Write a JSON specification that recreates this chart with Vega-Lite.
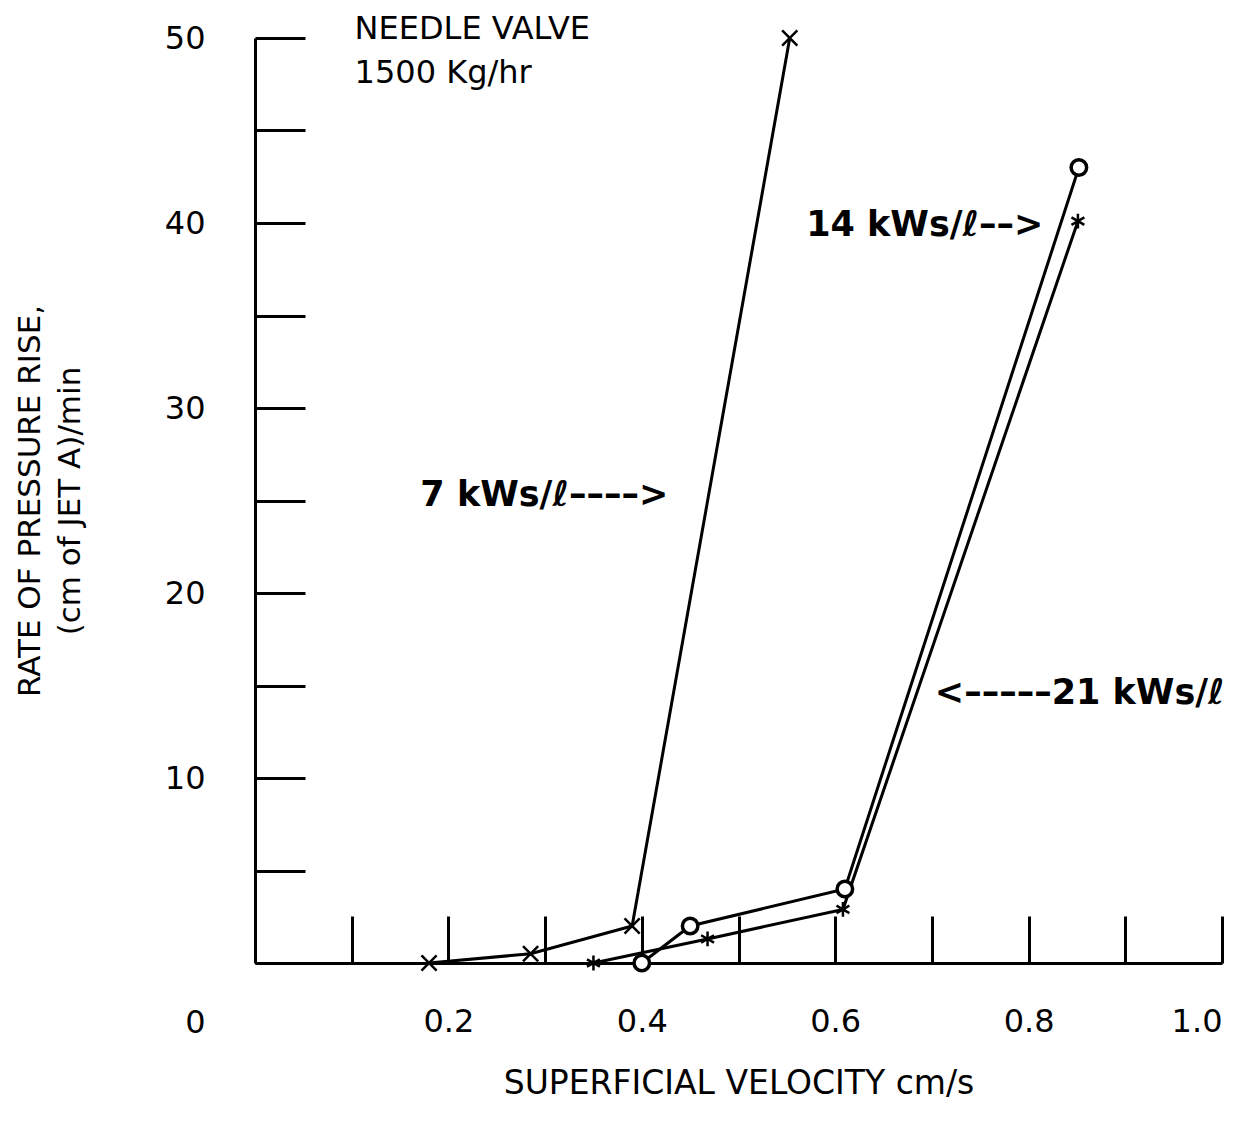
{
  "$schema": "https://vega.github.io/schema/vega-lite/v6.json",
  "width": 967,
  "height": 925,
  "autosize": {"type": "none"},
  "padding": {"left": 255, "top": 38, "right": 30, "bottom": 174},
  "background": "white",
  "config": {
    "view": {"stroke": null},
    "font": "DejaVu Sans",
    "axis": {
      "grid": false,
      "domainColor": "black",
      "domainWidth": 3,
      "tickColor": "black",
      "tickWidth": 3,
      "labelColor": "black",
      "labelFont": "DejaVu Sans",
      "labelFontSize": 32,
      "titleColor": "black",
      "titleFont": "DejaVu Sans",
      "titleFontSize": 31,
      "titleFontWeight": "normal"
    }
  },
  "datasets": {
    "runs": [
      {"series": "7 kWs/l", "velocity": 0.18, "rate": 0.0},
      {"series": "7 kWs/l", "velocity": 0.285, "rate": 0.5},
      {"series": "7 kWs/l", "velocity": 0.39, "rate": 2.0},
      {"series": "7 kWs/l", "velocity": 0.553, "rate": 50.0},
      {"series": "14 kWs/l", "velocity": 0.40, "rate": 0.0},
      {"series": "14 kWs/l", "velocity": 0.45, "rate": 2.0},
      {"series": "14 kWs/l", "velocity": 0.61, "rate": 4.0},
      {"series": "14 kWs/l", "velocity": 0.852, "rate": 43.0},
      {"series": "21 kWs/l", "velocity": 0.35, "rate": 0.0},
      {"series": "21 kWs/l", "velocity": 0.468, "rate": 1.3},
      {"series": "21 kWs/l", "velocity": 0.608, "rate": 2.9},
      {"series": "21 kWs/l", "velocity": 0.851, "rate": 40.1}
    ],
    "header": [
      {"label": "NEEDLE VALVE", "velocity": 0.103, "rate": 50.5},
      {"label": "1500 Kg/hr", "velocity": 0.103, "rate": 48.1}
    ],
    "tags": [
      {"label": "7 kWs/ℓ––––>", "velocity": 0.171, "rate": 25.3},
      {"label": "14 kWs/ℓ––>", "velocity": 0.570, "rate": 39.9},
      {"label": "<–––––21 kWs/ℓ", "velocity": 0.703, "rate": 14.6}
    ]
  },
  "layer": [
    {
      "data": {"name": "runs"},
      "mark": {"type": "line", "color": "black", "strokeWidth": 3},
      "encoding": {
        "x": {
          "field": "velocity",
          "type": "quantitative",
          "scale": {"domain": [0, 1], "nice": false},
          "axis": {
            "title": "SUPERFICIAL VELOCITY cm/s",
            "titleFontSize": 33,
            "values": [0.1, 0.2, 0.3, 0.4, 0.5, 0.6, 0.7, 0.8, 0.9, 1.0],
            "format": ".1f",
            "labelExpr": "round(datum.value * 10) % 2 === 0 ? datum.label : ''",
            "tickSize": -47,
            "labelPadding": 90,
            "titlePadding": 30
          }
        },
        "y": {
          "field": "rate",
          "type": "quantitative",
          "scale": {"domain": [0, 50], "nice": false},
          "axis": {
            "title": ["RATE OF PRESSURE RISE,", "(cm of JET  A)/min"],
            "titleLineHeight": 40,
            "values": [0, 5, 10, 15, 20, 25, 30, 35, 40, 45, 50],
            "labelExpr": "datum.value % 10 === 0 ? datum.label : ''",
            "labelOffset": {"condition": {"test": "datum.value === 0", "value": 59}, "value": 0},
            "tickSize": -50,
            "labelPadding": 100,
            "titlePadding": 78
          }
        },
        "detail": {"field": "series"}
      }
    },
    {
      "data": {"name": "runs"},
      "transform": [{"filter": "datum.series === '7 kWs/l'"}],
      "mark": {
        "type": "point",
        "shape": "M-1,-1L1,1M-1,1L1,-1",
        "filled": false,
        "opacity": 1,
        "stroke": "black",
        "strokeWidth": 2.5,
        "size": 230
      },
      "encoding": {
        "x": {"field": "velocity", "type": "quantitative"},
        "y": {"field": "rate", "type": "quantitative"}
      }
    },
    {
      "data": {"name": "runs"},
      "transform": [{"filter": "datum.series === '14 kWs/l'"}],
      "mark": {
        "type": "point",
        "shape": "circle",
        "filled": false,
        "fill": "white",
        "fillOpacity": 1,
        "opacity": 1,
        "stroke": "black",
        "strokeWidth": 3.5,
        "size": 240
      },
      "encoding": {
        "x": {"field": "velocity", "type": "quantitative"},
        "y": {"field": "rate", "type": "quantitative"}
      }
    },
    {
      "data": {"name": "runs"},
      "transform": [{"filter": "datum.series === '21 kWs/l'"}],
      "mark": {
        "type": "point",
        "shape": "M0,-1L0,1M-0.87,-0.5L0.87,0.5M-0.87,0.5L0.87,-0.5",
        "filled": false,
        "opacity": 1,
        "stroke": "black",
        "strokeWidth": 2.5,
        "size": 220
      },
      "encoding": {
        "x": {"field": "velocity", "type": "quantitative"},
        "y": {"field": "rate", "type": "quantitative"}
      }
    },
    {
      "data": {"name": "header"},
      "mark": {
        "type": "text",
        "align": "left",
        "baseline": "middle",
        "font": "DejaVu Sans",
        "fontSize": 32,
        "color": "black"
      },
      "encoding": {
        "x": {"field": "velocity", "type": "quantitative"},
        "y": {"field": "rate", "type": "quantitative"},
        "text": {"field": "label"}
      }
    },
    {
      "data": {"name": "tags"},
      "mark": {
        "type": "text",
        "align": "left",
        "baseline": "middle",
        "font": "DejaVu Sans",
        "fontSize": 35,
        "fontWeight": "bold",
        "color": "black"
      },
      "encoding": {
        "x": {"field": "velocity", "type": "quantitative"},
        "y": {"field": "rate", "type": "quantitative"},
        "text": {"field": "label"}
      }
    }
  ]
}
